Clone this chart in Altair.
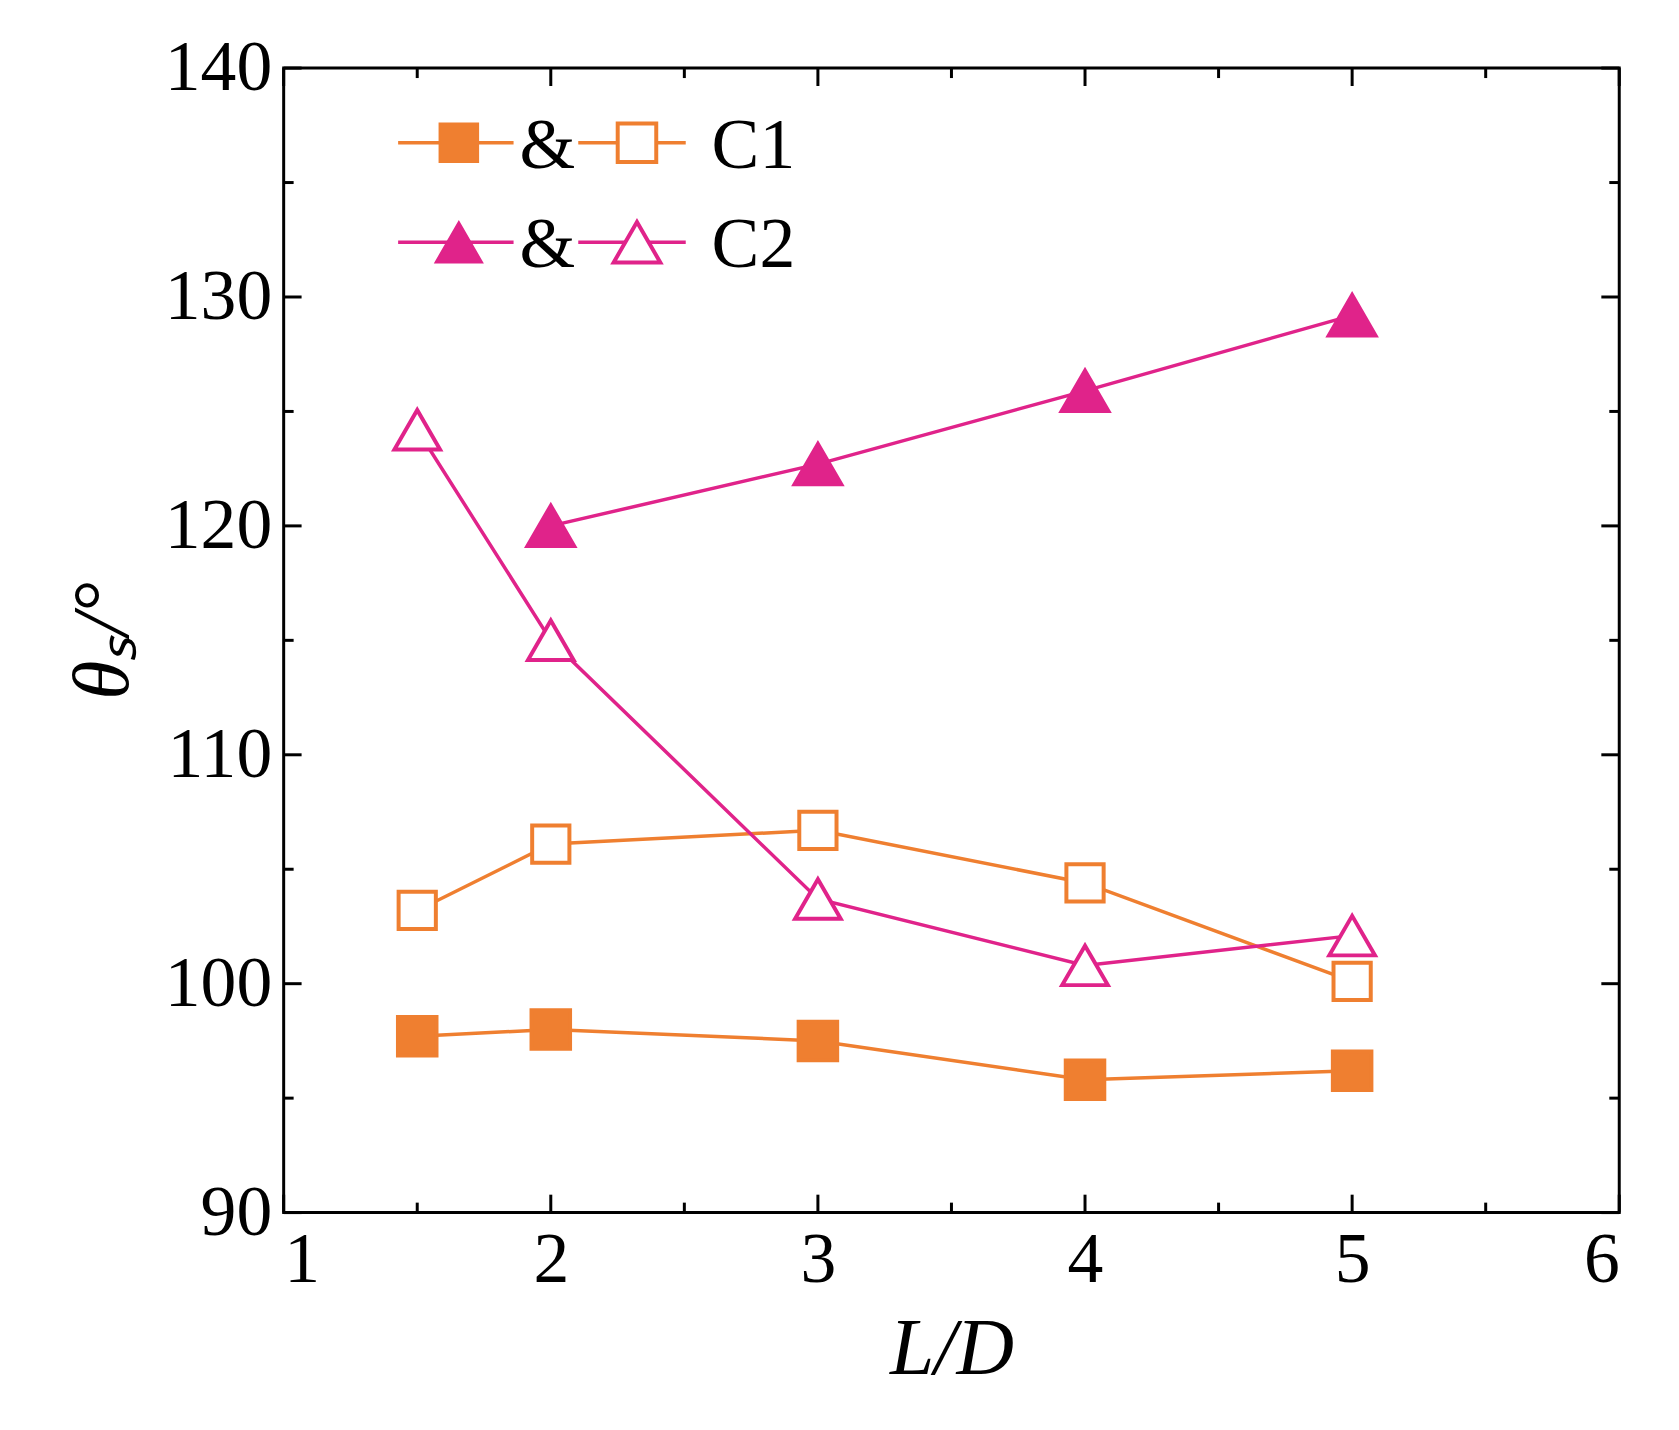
import altair as alt
import pandas as pd

ld = [1.5, 2, 3, 4, 5]
c1_filled = [97.7, 98.0, 97.5, 95.8, 96.2]
c1_open = [103.2, 106.1, 106.7, 104.4, 100.1]
c2_filled_x = [2, 3, 4, 5]
c2_filled = [120.0, 122.7, 125.9, 129.2]
c2_open = [124.2, 115.0, 103.7, 100.8, 102.1]

x_major = [1, 2, 3, 4, 5, 6]
x_minor = [1.5, 2.5, 3.5, 4.5, 5.5]
y_major = [90, 100, 110, 120, 130, 140]
y_minor = [95, 105, 115, 125, 135]

ORANGE = "#EF7F30"
MAGENTA = "#E0238A"
FONT = "Liberation Serif"
W, H = 1342, 1150

xs = alt.Scale(domain=[1, 6], nice=False)
ys = alt.Scale(domain=[90, 140], nice=False)

def series(xv, yv, color, shape, filled, size):
    df = pd.DataFrame({"x": xv, "y": yv})
    base = alt.Chart(df).encode(
        x=alt.X("x:Q", scale=xs),
        y=alt.Y("y:Q", scale=ys),
    )
    line = base.mark_line(color=color, strokeWidth=3.5)
    pts = base.mark_point(shape=shape, filled=True, size=size, stroke=color,
                          strokeWidth=4, opacity=1,
                          fill=color if filled else "white")
    return line + pts

axis_x = alt.Axis(values=x_major, format="d", ticks=False, domain=False, grid=False,
                  labelFont=FONT, labelFontSize=72, labelColor="black", labelPadding=12,
                  title="L/D", titleFont=FONT, titleFontSize=80, titleFontStyle="italic",
                  titleFontWeight="normal", titleColor="black", titlePadding=16)
axis_y = alt.Axis(values=y_major, format="d", ticks=False, domain=False, grid=False,
                  labelFont=FONT, labelFontSize=72, labelColor="black", labelPadding=12,
                  title="θₛ/°", titleFont=FONT, titleFontSize=80, titleFontStyle="italic",
                  titleFontWeight="normal", titleColor="black", titlePadding=20)

frame = alt.Chart(pd.DataFrame({"x": [1, 6], "y": [90, 140]})).mark_point(opacity=0).encode(
    x=alt.X("x:Q", scale=xs, axis=axis_x),
    y=alt.Y("y:Q", scale=ys, axis=axis_y),
)

def xticks(vals, length):
    df = pd.DataFrame({"x": vals})
    b = alt.Chart(df).mark_rule(color="black", strokeWidth=3)
    return (b.encode(x=alt.X("x:Q", scale=xs), y=alt.value(H), y2=alt.value(H - length))
            + b.encode(x=alt.X("x:Q", scale=xs), y=alt.value(0), y2=alt.value(length)))

def yticks(vals, length):
    df = pd.DataFrame({"y": vals})
    b = alt.Chart(df).mark_rule(color="black", strokeWidth=3)
    return (b.encode(y=alt.Y("y:Q", scale=ys), x=alt.value(0), x2=alt.value(length))
            + b.encode(y=alt.Y("y:Q", scale=ys), x=alt.value(W), x2=alt.value(W - length)))

ticks = xticks(x_major, 18) + xticks(x_minor, 10) + yticks(y_major, 18) + yticks(y_minor, 10)

def legend_row(yp, color, shape, size, label):
    one = pd.DataFrame({"a": [0]})
    b = alt.Chart(one)
    l1 = b.mark_rule(color=color, strokeWidth=3.5).encode(x=alt.value(115), x2=alt.value(231), y=alt.value(yp))
    l2 = b.mark_rule(color=color, strokeWidth=3.5).encode(x=alt.value(296), x2=alt.value(404), y=alt.value(yp))
    p1 = b.mark_point(shape=shape, filled=True, size=size, fill=color, stroke=color, opacity=1).encode(
        x=alt.value(176), y=alt.value(yp))
    p2 = b.mark_point(shape=shape, filled=True, size=size, fill="white", stroke=color,
                      strokeWidth=4, opacity=1).encode(x=alt.value(355), y=alt.value(yp))
    amp = b.mark_text(text="&", font=FONT, fontSize=72, color="black", baseline="middle").encode(
        x=alt.value(265), y=alt.value(yp + 3))
    t = b.mark_text(text=label, font=FONT, fontSize=72, color="black", align="left",
                    baseline="middle").encode(x=alt.value(430), y=alt.value(yp + 3))
    return l1 + l2 + p1 + p2 + amp + t

legend = legend_row(75, ORANGE, "square", 1500, "C1") + legend_row(175, MAGENTA, "triangle-up", 2200, "C2")

chart = alt.layer(
    frame,
    ticks,
    series(ld, c1_filled, ORANGE, "square", True, 1500),
    series(ld, c1_open, ORANGE, "square", False, 1400),
    series(c2_filled_x, c2_filled, MAGENTA, "triangle-up", True, 2200),
    series(ld, c2_open, MAGENTA, "triangle-up", False, 2100),
    legend,
).properties(
    width=W, height=H,
    autosize=alt.AutoSizeParams(type="none"),
    padding={"left": 277, "top": 57, "right": 52, "bottom": 200},
    background="white",
).configure_view(stroke="black", strokeWidth=3)

chart.save("out.html", embed_options={"renderer": "svg", "actions": False})
